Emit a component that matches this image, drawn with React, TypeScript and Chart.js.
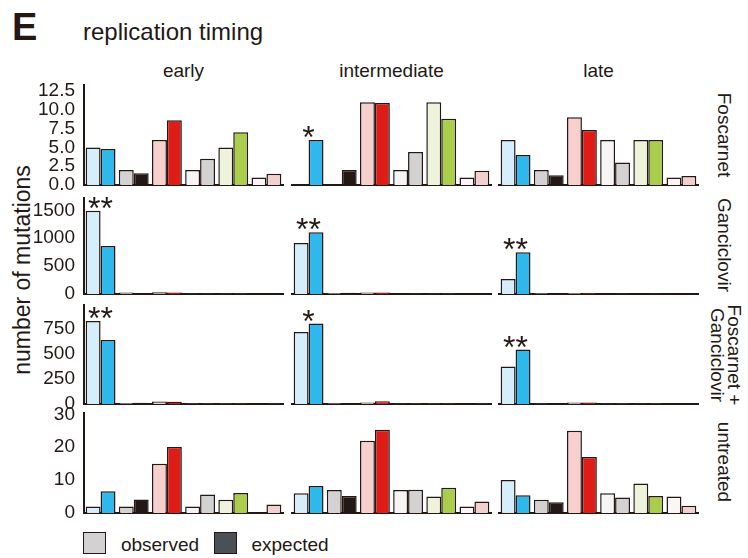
import React, { useEffect, useRef } from 'react';
import { Chart, registerables } from 'chart.js';

Chart.register(...registerables);

// ---------- data ----------
const mutationTypes = ['C>A', 'C>G', 'C>T', 'T>A', 'T>C', 'T>G'];
const timings = ['early', 'intermediate', 'late'];
const treatments = ['Foscarnet', 'Ganciclovir', 'Foscarnet +\nGanciclovir', 'untreated'];

const observedColors = ['#d5eef9', '#d3d1d1', '#f7d0ce', '#f5f5f5', '#eef3dc', '#fcf5f5'];
const expectedColors = ['#2fb8ec', '#231815', '#e01c16', '#d3d1d1', '#aacd4c', '#f2d0cf'];

// Foscarnet
const foscarnetEarlyObs = [5, 2, 6, 2, 5, 1];
const foscarnetEarlyExp = [4.8, 1.55, 8.6, 3.5, 7.0, 1.5];
const foscarnetInterObs = [0, 0, 11, 2, 11, 1];
const foscarnetInterExp = [6.0, 2.0, 10.9, 4.4, 8.8, 1.9];
const foscarnetLateObs = [6, 2, 9, 6, 6, 1];
const foscarnetLateExp = [4.0, 1.3, 7.3, 3.0, 6.0, 1.2];
// Ganciclovir
const ganciclovirEarlyObs = [1490, 25, 30, 5, 5, 3];
const ganciclovirEarlyExp = [860, 20, 28, 6, 7, 4];
const ganciclovirInterObs = [915, 20, 25, 4, 5, 3];
const ganciclovirInterExp = [1105, 22, 28, 6, 7, 4];
const ganciclovirLateObs = [270, 15, 18, 4, 4, 2];
const ganciclovirLateExp = [750, 14, 16, 5, 5, 3];
// Foscarnet + Ganciclovir
const comboEarlyObs = [830, 10, 25, 4, 4, 2];
const comboEarlyExp = [640, 12, 22, 5, 6, 3];
const comboInterObs = [720, 8, 15, 3, 4, 2];
const comboInterExp = [805, 10, 28, 5, 6, 3];
const comboLateObs = [375, 6, 14, 3, 3, 2];
const comboLateExp = [545, 8, 14, 4, 4, 2];
// untreated
const untreatedEarlyObs = [2, 2, 15, 2, 4, 0];
const untreatedEarlyExp = [6.6, 4.1, 20.1, 5.6, 6.1, 2.6];
const untreatedInterObs = [6, 7, 22, 7, 5, 2];
const untreatedInterExp = [8.2, 5.2, 25.3, 7.1, 7.7, 3.5];
const untreatedLateObs = [10, 4, 25, 6, 9, 5];
const untreatedLateExp = [5.4, 3.3, 17, 4.7, 5.2, 2.2];

// significance marks above the first pair (C>A) for each panel
const foscarnetStars = ['', '*', ''];
const ganciclovirStars = ['**', '**', '**'];
const comboStars = ['**', '*', '**'];
const untreatedStars = ['', '', ''];

// y axis tick labels and maxima per row
const foscarnetTicks = [0, 2.5, 5, 7.5, 10, 12.5];
const ganciclovirTicks = [0, 500, 1000, 1500];
const comboTicks = [0, 250, 500, 750];
const untreatedTicks = [0, 10, 20, 30];
const rowMax = [13.3, 1720, 990, 30.4];

const panelData = [
  [[foscarnetEarlyObs, foscarnetEarlyExp], [foscarnetInterObs, foscarnetInterExp], [foscarnetLateObs, foscarnetLateExp]],
  [[ganciclovirEarlyObs, ganciclovirEarlyExp], [ganciclovirInterObs, ganciclovirInterExp], [ganciclovirLateObs, ganciclovirLateExp]],
  [[comboEarlyObs, comboEarlyExp], [comboInterObs, comboInterExp], [comboLateObs, comboLateExp]],
  [[untreatedEarlyObs, untreatedEarlyExp], [untreatedInterObs, untreatedInterExp], [untreatedLateObs, untreatedLateExp]],
];
const rowStars = [foscarnetStars, ganciclovirStars, comboStars, untreatedStars];
const rowTicks = [foscarnetTicks, ganciclovirTicks, comboTicks, untreatedTicks];

// ---------- layout ----------
const FONT = '"Liberation Sans", Arial, Helvetica, sans-serif';
const INK = '#231815';
const colLeft = [84, 292, 499];
const colWidth = 199;
const rowTop = [85, 198, 305, 413];
const rowBottom = [185, 294, 404, 513];
const PAD_T = 14;
const PAD_B = 12;
const PAD_S = 4;

const starPlugin = {
  id: 'stars',
  afterDatasetsDraw(chart: any, _args: any, opts: any) {
    const text: string = opts.text || '';
    if (!text) return;
    const m0 = chart.getDatasetMeta(0).data[0];
    const m1 = chart.getDatasetMeta(1).data[0];
    const top = Math.min(m0.y, m1.y);
    const cx = (m0.x + m1.x) / 2;
    const ctx = chart.ctx;
    ctx.save();
    ctx.fillStyle = INK;
    ctx.font = `32px ${FONT}`;
    ctx.textAlign = 'center';
    ctx.textBaseline = 'alphabetic';
    const mt = ctx.measureText('*');
    const asc = mt.actualBoundingBoxAscent;
    const desc = mt.actualBoundingBoxDescent;
    const cy = top - 8;
    const baseY = cy + (asc - desc) / 2;
    const n = text.length;
    const gap = 12.5;
    for (let i = 0; i < n; i++) {
      const x = cx + (i - (n - 1) / 2) * gap;
      ctx.fillText('*', x, baseY);
    }
    ctx.restore();
  },
};

function canvasBox(r: number, c: number) {
  const left = c === 0 ? 0 : colLeft[c] - PAD_S;
  const width = c === 0 ? colLeft[0] + colWidth + PAD_S : colWidth + 2 * PAD_S;
  const top = rowTop[r] - PAD_T;
  const height = rowBottom[r] - rowTop[r] + PAD_T + PAD_B;
  return { left, width, top, height };
}

export default function App() {
  const refs = useRef<(HTMLCanvasElement | null)[]>([]);

  useEffect(() => {
    const charts: Chart[] = [];
    for (let r = 0; r < 4; r++) {
      for (let c = 0; c < 3; c++) {
        const canvas = refs.current[r * 3 + c];
        if (!canvas) continue;
        const [obs, exp] = panelData[r][c];
        const ticks = rowTicks[r];
        const isFirst = r === 0;
        const box = canvasBox(r, c);
        const yScale: any = {
          display: c === 0,
          min: 0,
          max: rowMax[r],
          afterBuildTicks: (scale: any) => {
            scale.ticks = ticks.map((v) => ({ value: v }));
          },
          afterFit: (scale: any) => {
            if (c === 0) scale.width = colLeft[0];
            scale.paddingTop = 0;
            scale.paddingBottom = 0;
          },
          ticks: {
            color: INK,
            padding: 9,
            autoSkip: false,
            font: { family: FONT, size: 19, lineHeight: 1 },
            callback: (v: any) => (isFirst ? Number(v).toFixed(1) : String(v)),
          },
          grid: { display: false, drawTicks: false },
          border: { display: true, color: INK, width: 2 },
        };
        const chart: any = new Chart(canvas, {
          type: 'bar',
          data: {
            labels: mutationTypes,
            datasets: [
              {
                label: 'observed',
                data: obs,
                backgroundColor: observedColors,
                borderColor: INK,
                borderWidth: 1.5,
                categoryPercentage: 0.9,
                barPercentage: 1.0,
              },
              {
                label: 'expected',
                data: exp,
                backgroundColor: expectedColors,
                borderColor: INK,
                borderWidth: 1.5,
                categoryPercentage: 0.9,
                barPercentage: 1.0,
              },
            ],
          },
          options: {
            responsive: false,
            animation: false,
            devicePixelRatio: 1,
            layout: {
              padding: { top: PAD_T, bottom: PAD_B, left: c === 0 ? 0 : PAD_S, right: PAD_S },
            },
            plugins: {
              legend: { display: false },
              tooltip: { enabled: false },
              title: { display: false },
              stars: { text: rowStars[r][c] },
            } as any,
            scales: {
              x: {
                display: true,
                offset: true,
                ticks: { display: false },
                grid: { display: false, drawTicks: false },
                border: { display: true, color: INK, width: 2 },
              },
              y: yScale,
            },
          },
          plugins: [starPlugin],
        });
        // correct the layout so the plotting area sits exactly where wanted
        const wantTop = PAD_T;
        const wantBottom = box.height - PAD_B;
        for (let k = 0; k < 3; k++) {
          const ca = chart.chartArea;
          const dt = ca.top - wantTop;
          const db = wantBottom - ca.bottom;
          if (Math.abs(dt) < 0.5 && Math.abs(db) < 0.5) break;
          const p = chart.options.layout.padding;
          chart.options.layout.padding = {
            top: Math.max(0, p.top - dt),
            bottom: Math.max(0, p.bottom - db),
            left: p.left,
            right: p.right,
          };
          chart.update();
        }
        charts.push(chart);
      }
    }
    return () => charts.forEach((ch) => ch.destroy());
  }, []);

  const text = (s: string, x: number, y: number, size: number, extra: React.CSSProperties = {}) => (
    <div
      style={{
        position: 'absolute',
        left: x,
        top: y,
        transform: 'translate(-50%, -50%)',
        fontFamily: FONT,
        fontSize: size,
        lineHeight: 1,
        color: INK,
        whiteSpace: 'pre',
        textAlign: 'center',
        ...extra,
      }}
    >
      {s}
    </div>
  );

  const rowLabelY = [135, 245, 355, 462];
  const rowLabelX = [724, 724, 726, 724];

  const panels = [];
  for (let r = 0; r < 4; r++) {
    for (let c = 0; c < 3; c++) {
      const b = canvasBox(r, c);
      panels.push(
        <canvas
          key={`${r}-${c}`}
          ref={(el) => {
            refs.current[r * 3 + c] = el;
          }}
          width={b.width}
          height={b.height}
          style={{ position: 'absolute', left: b.left, top: b.top, width: b.width, height: b.height }}
        />
      );
    }
  }

  return (
    <div style={{ position: 'fixed', left: 0, top: 0, width: 748, height: 558, background: '#ffffff', overflow: 'hidden' }}>
      <div
        style={{
          position: 'absolute',
          left: 12,
          top: 27,
          transform: 'translateY(-50%)',
          fontFamily: FONT,
          fontWeight: 'bold',
          fontSize: 38,
          lineHeight: 1,
          color: INK,
        }}
      >
        E
      </div>
      <div
        style={{
          position: 'absolute',
          left: 83,
          top: 32,
          transform: 'translateY(-50%)',
          fontFamily: FONT,
          fontSize: 24,
          lineHeight: 1,
          color: INK,
          whiteSpace: 'nowrap',
        }}
      >
        replication timing
      </div>
      {timings.map((t, i) => (
        <React.Fragment key={t}>{text(t, colLeft[i] + colWidth / 2, 70, 19)}</React.Fragment>
      ))}
      {treatments.map((t, i) => (
        <React.Fragment key={t}>
          {text(t, rowLabelX[i], rowLabelY[i], 19, {
            transform: 'translate(-50%, -50%) rotate(90deg)',
            lineHeight: '17px',
          })}
        </React.Fragment>
      ))}
      {text('number of mutations', 22, 270, 23, { transform: 'translate(-50%, -50%) rotate(-90deg)' })}
      {panels}
      {/* legend */}
      <div style={{ position: 'absolute', left: 83, top: 532, width: 21, height: 20, background: '#d3d2d2', border: `1.5px solid ${INK}` }} />
      {text('observed', 160, 544, 19)}
      <div style={{ position: 'absolute', left: 214, top: 532, width: 21, height: 20, background: '#4a5053', border: `1.5px solid ${INK}` }} />
      {text('expected', 290, 544, 19)}
    </div>
  );
}
